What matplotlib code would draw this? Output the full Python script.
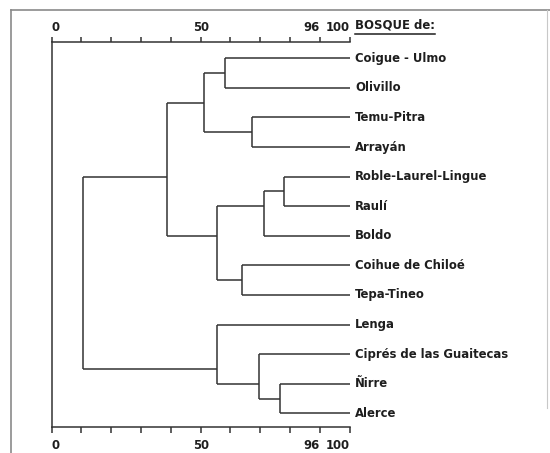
import matplotlib
matplotlib.use("Agg")
import matplotlib.pyplot as plt
from matplotlib.lines import Line2D
import numpy as np

# ---- data ----
leaves = ["Coigue - Ulmo", "Olivillo", "Temu-Pitra", "Arrayán",
          "Roble-Laurel-Lingue", "Raulí", "Boldo", "Coihue de Chiloé",
          "Tepa-Tineo", "Lenga", "Ciprés de las Guaitecas", "Ñirre", "Alerce"]
# merges: (child_a, child_b, similarity); ids >= len(leaves) refer to earlier merges
merge_a = [0, 2, 13, 4, 16, 7, 17, 15, 11, 10, 9, 20]
merge_b = [1, 3, 14, 5, 6, 8, 18, 19, 12, 21, 22, 23]
merge_h = [58.3, 67.2, 51.2, 77.9, 71.4, 64.0, 55.6, 38.8, 76.6, 69.7, 55.6, 10.4]
tick_values = [0, 10, 20, 30, 40, 50, 60, 70, 80, 90, 100]
tick_labels = ["0", "", "", "", "", "50", "", "", "", "96", "100"]
header = "BOSQUE de:"

W, H = 550, 453
fig = plt.figure(figsize=(W / 100, H / 100), dpi=100)
fig.patch.set_facecolor("white")

x0px, x1px = 51.7, 349.5
ytop, ybot = 42, 427
ax = fig.add_axes([x0px / W, 1 - ybot / H, (x1px - x0px) / W, (ybot - ytop) / H])

lc = "#333333"
tc = "#1e1e1e"
lw = 1.1
fs = 8.4
font = dict(family="DejaVu Sans", weight="bold", size=fs, color=tc)

n = len(leaves)
xpos = {i: 100.0 for i in range(n)}
members = {i: [i] for i in range(n)}
ypos = {i: float(i) for i in range(n)}
for k, (a, b, h) in enumerate(zip(merge_a, merge_b, merge_h)):
    cid = n + k
    members[cid] = members[a] + members[b]
    ypos[cid] = float(np.mean(members[cid]))
    xpos[cid] = h
    ax.plot([h, h], [ypos[a], ypos[b]], color=lc, lw=lw, solid_capstyle="butt")
    ax.plot([h, xpos[a]], [ypos[a], ypos[a]], color=lc, lw=lw, solid_capstyle="butt")
    ax.plot([h, xpos[b]], [ypos[b], ypos[b]], color=lc, lw=lw, solid_capstyle="butt")

for i, lab in enumerate(leaves):
    ax.annotate(lab, (100, i), xytext=(4, 0), textcoords="offset points",
                ha="left", va="center", annotation_clip=False, **font)

step = (413.3 - 58.3) / 12   # pixel distance between leaves
ax.set_ylim((ybot - 58.3) / step, (ytop - 58.3) / step)
ax.set_xlim(0, 100)

for s in ["right", "top"]:
    ax.spines[s].set_visible(False)
for s in ["left", "bottom"]:
    ax.spines[s].set_color(lc)
    ax.spines[s].set_linewidth(lw)

aligns = ["left"] + ["center"] * 8 + ["right", "right"]

ax.set_yticks([])
ax.set_xticks(tick_values)
ax.set_xticklabels(tick_labels)
ax.tick_params(axis="x", direction="out", length=4, width=lw, color=lc, pad=4.5)
for t, al in zip(ax.get_xticklabels(), aligns):
    t.set_ha(al)
    t.set_fontweight("bold")
    t.set_fontsize(fs)
    t.set_color(tc)

sec = ax.secondary_xaxis("top")
sec.spines["top"].set_color(lc)
sec.spines["top"].set_linewidth(lw)
sec.set_xticks(tick_values)
sec.set_xticklabels(tick_labels)
sec.tick_params(axis="x", direction="out", length=3.5, width=lw, color=lc, pad=2)
for t, al in zip(sec.get_xticklabels(), aligns):
    t.set_ha(al)
    t.set_fontweight("bold")
    t.set_fontsize(fs)
    t.set_color(tc)

hdr = ax.annotate(header, (100, ax.get_ylim()[1]), xytext=(4, 12),
                  textcoords="offset points", ha="left", va="center",
                  annotation_clip=False, **font)

# frame of the scanned page
fc = "#8a8a8a"
fig.add_artist(Line2D([11 / W, 11 / W], [0, 1 - 10 / H], color=fc, lw=1.2))
fig.add_artist(Line2D([11 / W, 1], [1 - 10 / H, 1 - 10 / H], color=fc, lw=1.2))
fig.add_artist(Line2D([547 / W, 547 / W], [1 - 10 / H, 0.1], color="#c8c8c8", lw=0.8))

fig.canvas.draw()
bb = hdr.get_window_extent(fig.canvas.get_renderer())
yline = bb.y0 - 2
fig.add_artist(Line2D([bb.x0 / W, bb.x1 / W], [yline / H, yline / H],
                      color=tc, lw=1.1))

fig.savefig("out.png", dpi=100, facecolor="white")
